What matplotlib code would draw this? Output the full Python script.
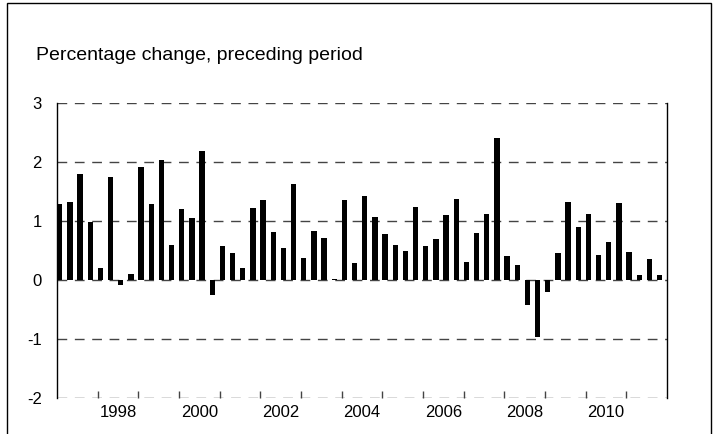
import numpy as np
import matplotlib
matplotlib.use("Agg")
import matplotlib.pyplot as plt
from matplotlib.patches import Rectangle

plt.rcParams['font.family'] = ['Liberation Sans', 'DejaVu Sans']

# quarterly percentage change, 1997Q1 - 2011Q4
years = list(range(1997, 2012))
values = [
    1.28, 1.32, 1.80, 0.98,   # 1997
    0.20, 1.75, -0.08, 0.10,  # 1998
    1.92, 1.28, 2.03, 0.60,   # 1999
    1.20, 1.05, 2.18, -0.25,  # 2000
    0.57, 0.45, 0.20, 1.22,   # 2001
    1.35, 0.82, 0.55, 1.63,   # 2002
    0.38, 0.83, 0.72, 0.02,   # 2003
    1.35, 0.28, 1.42, 1.07,   # 2004
    0.78, 0.60, 0.50, 1.23,   # 2005
    0.57, 0.70, 1.10, 1.37,   # 2006
    0.30, 0.80, 1.12, 2.40,   # 2007
    0.40, 0.25, -0.42, -0.97, # 2008
    -0.20, 0.45, 1.33, 0.90,  # 2009
    1.12, 0.43, 0.65, 1.30,   # 2010
    0.47, 0.08, 0.35, 0.08,   # 2011
]
year_labels = ['1998', '2000', '2002', '2004', '2006', '2008', '2010']
yticks = [-2, -1, 0, 1, 2, 3]

x = np.array([y + q / 4 for y in years for q in range(4)])

fig = plt.figure(figsize=(7.17, 4.34), dpi=100)
ax = fig.add_axes([57 / 717, 1 - 398 / 434, 610 / 717, 295 / 434])

for yv in yticks:
    ax.axhline(yv, color='#444444', lw=1, linestyle=(0, (7, 5.5)), zorder=1)

ax.bar(x, values, width=0.135, align='edge', color='black', zorder=3)

ax.set_xlim(1997, 2012)
ax.set_ylim(-2, 3)
ax.set_yticks(yticks)
ax.set_yticklabels([str(v) for v in yticks])
ax.tick_params(axis='y', length=0, pad=11, labelsize=12)

ax.set_xticks(range(1998, 2012))
ax.set_xticklabels([])
ax.set_xticks([int(l) + 0.5 for l in year_labels], minor=True)
ax.set_xticklabels(year_labels, minor=True)
ax.tick_params(axis='x', which='major', direction='in', length=5, width=1, color='#444444')
ax.tick_params(axis='x', which='minor', length=0, pad=5, labelsize=12)

ax.spines['top'].set_visible(False)
ax.spines['bottom'].set_visible(False)
ax.spines['left'].set_linewidth(1)
ax.spines['right'].set_linewidth(1)

fig.text(36 / 717, 1 - 56 / 434, 'Percentage change, preceding period',
         fontsize=14, ha='left', va='center')

fig.patches.append(Rectangle((7 / 717, -0.02), 704 / 717, 1 - 3 / 434 + 0.02,
                             transform=fig.transFigure, fill=False,
                             edgecolor='black', lw=1))

fig.savefig('out.png', dpi=100)
